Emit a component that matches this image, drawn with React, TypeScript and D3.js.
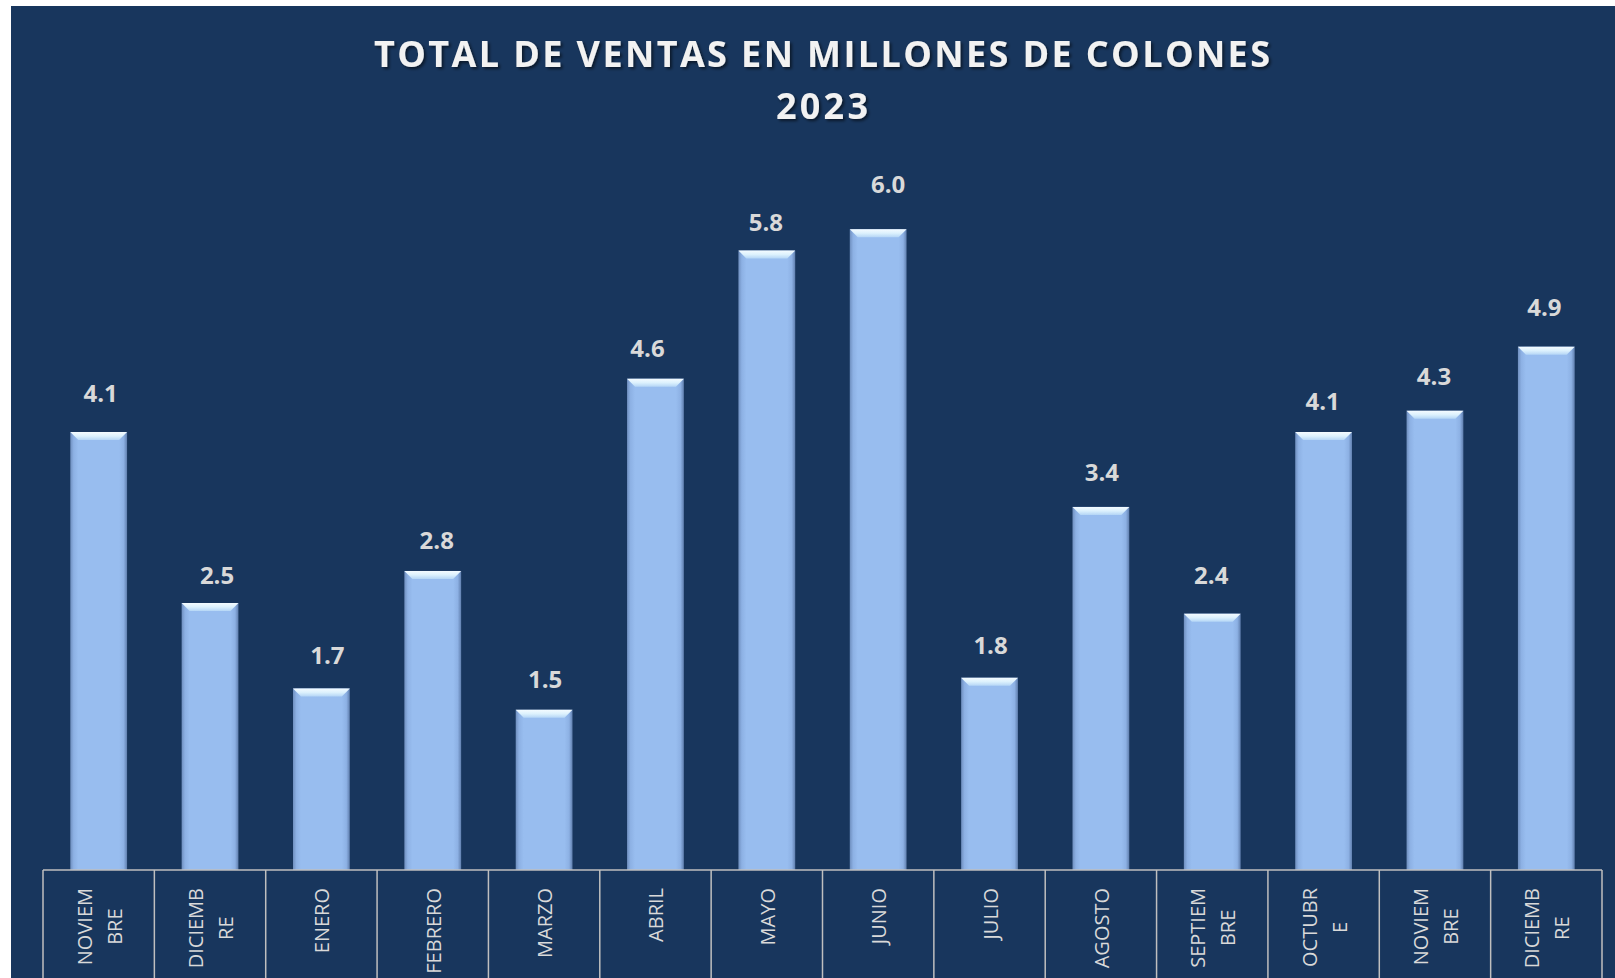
import React, { useEffect, useRef } from "react";
import * as d3 from "d3";

const categories: string[] = [
  "NOVIEM\nBRE", "DICIEMB\nRE", "ENERO", "FEBRERO", "MARZO", "ABRIL", "MAYO",
  "JUNIO", "JULIO", "AGOSTO", "SEPTIEM\nBRE", "OCTUBR\nE", "NOVIEM\nBRE", "DICIEMB\nRE",
];
const ventas: number[] = [4.1, 2.5, 1.7, 2.8, 1.5, 4.6, 5.8, 6.0, 1.8, 3.4, 2.4, 4.1, 4.3, 4.9];
const titleLines: string[] = ["TOTAL DE VENTAS EN MILLONES DE COLONES", "2023"];

// manual data-label nudges (layout only), [dx, dy] in px
const labelNudge: [number, number][] = [
  [2, 0], [7, 11], [6, 6], [4, 8], [1, 8], [-8, 8], [-1, 10],
  [10, -6], [1, 6], [1, 4], [-1, 0], [-1, 8], [-1, 4], [-2, -1],
];

const W = 1615;
const H = 978;

export default function App() {
  const ref = useRef<SVGSVGElement | null>(null);

  useEffect(() => {
    document.body.style.margin = "0";
    const svg = d3.select(ref.current!);
    svg.selectAll("*").remove();

    const defs = svg.append("defs");
    const side = defs.append("linearGradient").attr("id", "barSide").attr("x1", "0").attr("x2", "1").attr("y1", "0").attr("y2", "0");
    [
      [0, "#6f8fbf"], [0.06, "#8db1e4"], [0.14, "#98bdef"], [0.86, "#98bdef"], [0.94, "#8db1e4"], [1, "#607fae"],
    ].forEach(([o, c]) => side.append("stop").attr("offset", o as number).attr("stop-color", c as string));
    const bevel = defs.append("linearGradient").attr("id", "barTop").attr("x1", "0").attr("x2", "0").attr("y1", "0").attr("y2", "1");
    [[0, "#f4fbff"], [0.5, "#dcf1fd"], [1, "#b5d6f6"]].forEach(([o, c]) =>
      bevel.append("stop").attr("offset", o as number).attr("stop-color", c as string));
    const f = defs.append("filter").attr("id", "tshadow").attr("x", "-5%").attr("y", "-30%").attr("width", "110%").attr("height", "160%");
    f.append("feDropShadow").attr("dx", 2).attr("dy", 2).attr("stdDeviation", 1.5).attr("flood-color", "#000").attr("flood-opacity", 0.55);

    svg.append("rect").attr("x", 0).attr("y", 0).attr("width", W).attr("height", H).attr("fill", "#ffffff");
    svg.append("rect").attr("x", 11).attr("y", 6).attr("width", W - 11).attr("height", H - 6).attr("fill", "#18365d");

    const x0 = 43, x1 = 1602, axisY = 870;
    const x = d3.scaleBand<number>().domain(d3.range(categories.length)).range([x0, x1]).paddingInner(0.49).paddingOuter(0.245);
    const y = d3.scaleLinear().domain([0, 7]).range([axisY, axisY - 7 * 106.8]);
    const step = x.step();
    const bw = x.bandwidth();

    // Title
    const tg = svg.append("g").attr("filter", "url(#tshadow)");
    tg.append("text").attr("x", 822).attr("y", 67).attr("text-anchor", "middle")
      .attr("font-family", "'Open Sans', sans-serif").attr("font-weight", 700).attr("font-size", 36)
      .attr("fill", "#f2f2f2").attr("textLength", 896).attr("lengthAdjust", "spacing").text(titleLines[0]);
    tg.append("text").attr("x", 822).attr("y", 119).attr("text-anchor", "middle")
      .attr("font-family", "'Open Sans', sans-serif").attr("font-weight", 700).attr("font-size", 36)
      .attr("fill", "#f2f2f2").attr("textLength", 92).attr("lengthAdjust", "spacing").text(titleLines[1]);

    // Bars
    const bars = svg.append("g");
    ventas.forEach((v, i) => {
      const bx = x(i)!;
      const by = y(v);
      const g = bars.append("g");
      g.append("rect").attr("x", bx).attr("y", by).attr("width", bw).attr("height", axisY - by).attr("fill", "url(#barSide)");
      const b = 8;
      g.append("polygon")
        .attr("points", `${bx},${by} ${bx + bw},${by} ${bx + bw - b},${by + b} ${bx + b},${by + b}`)
        .attr("fill", "url(#barTop)");
      const [dx, dy] = labelNudge[i];
      g.append("text").attr("x", bx + bw / 2 + dx).attr("y", by - 30 + dy).attr("text-anchor", "middle")
        .attr("font-family", "'Open Sans', sans-serif").attr("font-weight", 700).attr("font-size", 24)
        .attr("fill", "#d9d9d9").text(d3.format(".1f")(v));
    });

    // Category axis boxes
    const ax = svg.append("g").attr("stroke", "#bfbfbf").attr("stroke-width", 1.5).attr("fill", "none");
    ax.append("line").attr("x1", x0).attr("x2", x1).attr("y1", axisY).attr("y2", axisY);
    for (let i = 0; i <= categories.length; i++) {
      const lx = x0 + i * step;
      ax.append("line").attr("x1", lx).attr("x2", lx).attr("y1", axisY).attr("y2", H);
    }

    // Category labels
    const labels = svg.append("g");
    categories.forEach((c, i) => {
      const cx = x0 + (i + 0.5) * step;
      const lines = c.split("\n");
      const g = labels.append("g").attr("transform", `translate(0,888) rotate(-90)`);
      const texts = lines.map((ln) =>
        g.append("text").attr("font-family", "'Open Sans', sans-serif").attr("font-size", 20)
          .attr("fill", "#d9d9d9").attr("text-anchor", "middle").text(ln));
      const lens = texts.map((t) => (t.node() as SVGTextElement).getComputedTextLength());
      const L = d3.max(lens) || 0;
      texts.forEach((t, k) => {
        const base = cx + 8 + (k - (lines.length - 1) / 2) * 30;
        t.attr("x", -L / 2).attr("y", base);
      });
    });
  }, []);

  return (
    <svg ref={ref} width={W} height={H} style={{ position: "absolute", left: 0, top: 0, display: "block" }} />
  );
}
